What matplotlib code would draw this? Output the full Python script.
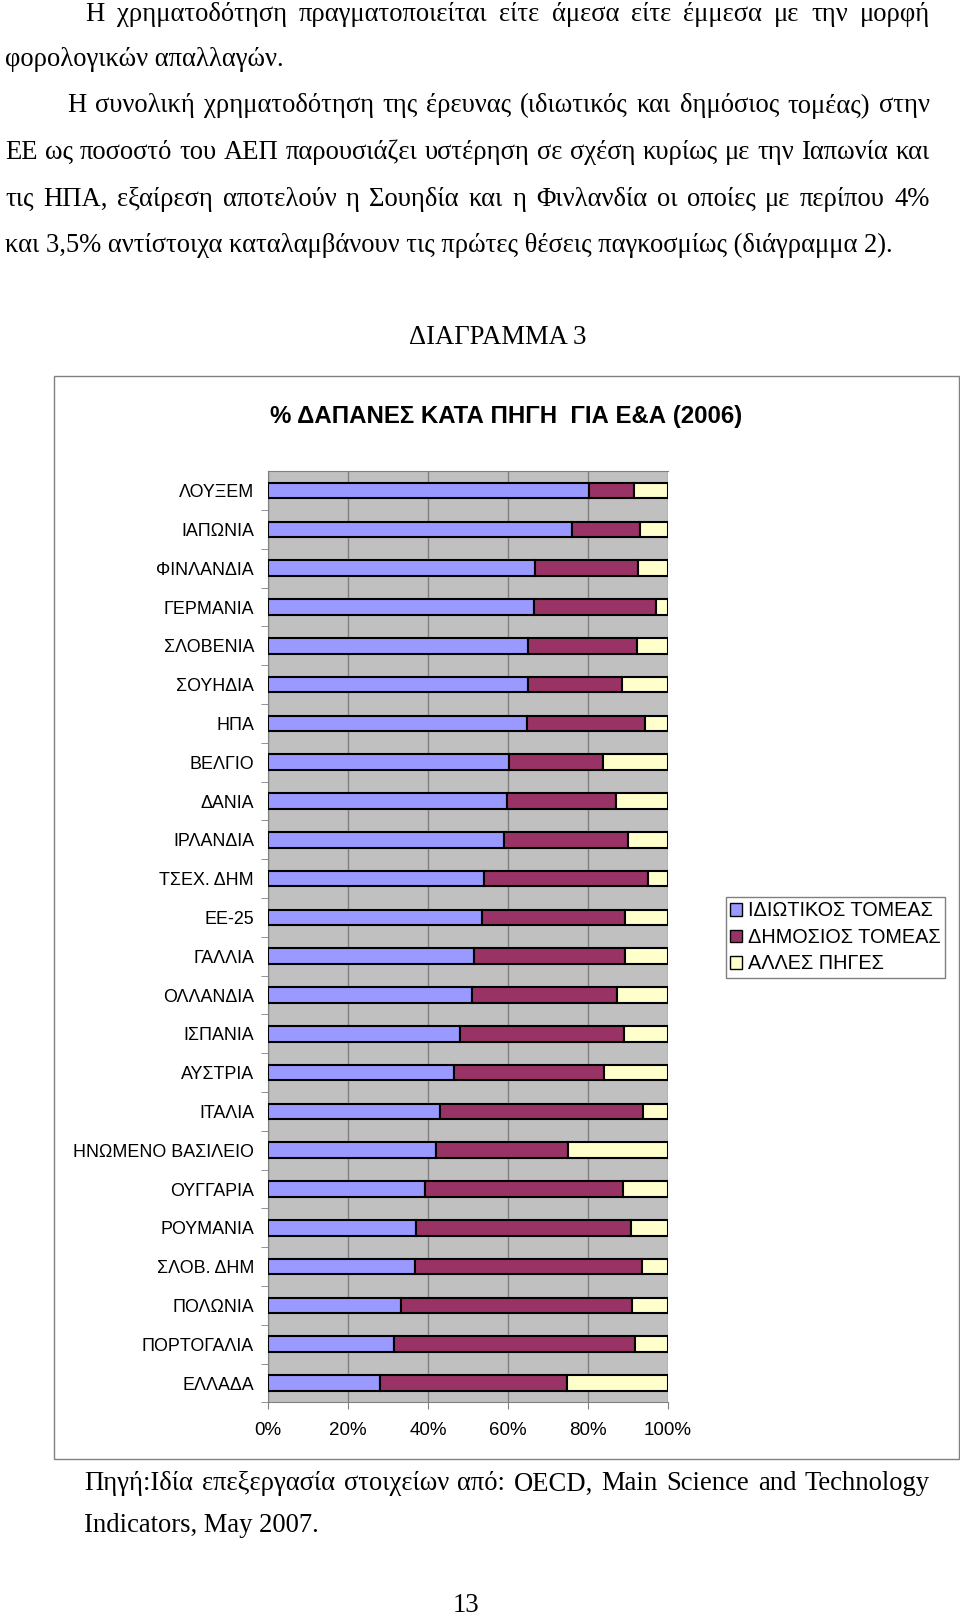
import numpy as np
import matplotlib
matplotlib.use("Agg")
import matplotlib.pyplot as plt
from matplotlib.patches import Rectangle, Patch

# data (% of R&D spending by source, 2006)
countries = ["ΛΟΥΞΕΜ", "ΙΑΠΩΝΙΑ", "ΦΙΝΛΑΝΔΙΑ", "ΓΕΡΜΑΝΙΑ", "ΣΛΟΒΕΝΙΑ", "ΣΟΥΗΔΙΑ",
             "ΗΠΑ", "ΒΕΛΓΙΟ", "ΔΑΝΙΑ", "ΙΡΛΑΝΔΙΑ", "ΤΣΕΧ. ΔΗΜ", "ΕΕ-25", "ΓΑΛΛΙΑ",
             "ΟΛΛΑΝΔΙΑ", "ΙΣΠΑΝΙΑ", "ΑΥΣΤΡΙΑ", "ΙΤΑΛΙΑ", "ΗΝΩΜΕΝΟ ΒΑΣΙΛΕΙΟ",
             "ΟΥΓΓΑΡΙΑ", "ΡΟΥΜΑΝΙΑ", "ΣΛΟΒ. ΔΗΜ", "ΠΟΛΩΝΙΑ", "ΠΟΡΤΟΓΑΛΙΑ", "ΕΛΛΑΔΑ"]
private = [80.3, 76.1, 66.8, 66.5, 65.1, 64.9, 64.8, 60.3, 59.7, 58.9, 54.0, 53.4,
           51.5, 51.0, 47.9, 46.6, 43.0, 42.0, 39.3, 37.1, 36.7, 33.3, 31.6, 28.1]
public = [11.3, 16.8, 25.6, 30.5, 27.2, 23.6, 29.4, 23.5, 27.3, 31.0, 41.0, 35.8,
          37.8, 36.3, 41.0, 37.5, 50.7, 33.0, 49.5, 53.6, 56.9, 57.8, 60.1, 46.6]
other = [8.4, 7.1, 7.6, 3.0, 7.7, 11.5, 5.8, 16.2, 13.0, 10.1, 5.0, 10.8,
         10.7, 12.7, 11.1, 15.9, 6.3, 25.0, 11.2, 9.3, 6.4, 8.9, 8.3, 25.3]
series_names = ["ΙΔΙΩΤΙΚΟΣ ΤΟΜΕΑΣ", "ΔΗΜΟΣΙΟΣ ΤΟΜΕΑΣ", "ΑΛΛΕΣ ΠΗΓΕΣ"]
xticks = [0, 20, 40, 60, 80, 100]
xtick_labels = ["0%", "20%", "40%", "60%", "80%", "100%"]

title = "% ΔΑΠΑΝΕΣ ΚΑΤΑ ΠΗΓΗ  ΓΙΑ Ε&Α (2006)"
para_lines = [
    "Η χρηματοδότηση πραγματοποιείται είτε άμεσα είτε έμμεσα με την μορφή",
    "φορολογικών απαλλαγών.",
    "Η συνολική χρηματοδότηση της έρευνας (ιδιωτικός και δημόσιος τομέας) στην",
    "ΕΕ ως ποσοστό του ΑΕΠ παρουσιάζει υστέρηση σε σχέση κυρίως με την Ιαπωνία και",
    "τις ΗΠΑ, εξαίρεση αποτελούν η Σουηδία και η Φινλανδία οι οποίες με περίπου 4%",
    "και 3,5% αντίστοιχα καταλαμβάνουν τις πρώτες θέσεις παγκοσμίως (διάγραμμα 2).",
]
source_lines = [
    "Πηγή:Ιδία επεξεργασία στοιχείων από: OECD, Main Science and Technology",
    "Indicators, May 2007.",
]

W, H = 960, 1616
SERIF = "Liberation Serif"
SANS = "Liberation Sans"
colors = ["#9999FF", "#993366", "#FFFFCC"]

fig = plt.figure(figsize=(W / 100, H / 100), dpi=100)
rend = fig.canvas.get_renderer()


def fx(x):
    return x / W


def fy(y):
    return 1 - y / H


def line_text(s, x0, y, size, x1=None):
    # justified when x1 given, otherwise left aligned
    words = s.split()
    if x1 is None:
        fig.text(fx(x0), fy(y), s, fontsize=size, family=SERIF, va="center", ha="left")
        return
    objs = [fig.text(0, fy(y), w, fontsize=size, family=SERIF, va="center", ha="left") for w in words]
    widths = [o.get_window_extent(rend).width for o in objs]
    gap = (x1 - x0 - sum(widths)) / (len(words) - 1)
    x = x0
    for o, w in zip(objs, widths):
        o.set_x(fx(x))
        x += w + gap


# calibrate body font size on the last (unjustified) line
t = fig.text(0, 0, para_lines[5], fontsize=16, family=SERIF)
body_size = 16 * 890 / t.get_window_extent(rend).width
t.remove()

line_text(para_lines[0], 85.6, 14.4, body_size, 930)
line_text(para_lines[1], 5, 60, body_size)
line_text(para_lines[2], 67, 106, body_size, 930)
line_text(para_lines[3], 5, 152.5, body_size, 930)
line_text(para_lines[4], 5, 199, body_size, 930)
line_text(para_lines[5], 5, 245, body_size)
fig.text(fx(498), fy(337), "ΔΙΑΓΡΑΜΜΑ 3", fontsize=body_size, family=SERIF, ha="center", va="center")

line_text(source_lines[0], 84.5, 1484, body_size, 930)
line_text(source_lines[1], 84.5, 1525, body_size)
fig.text(fx(466), fy(1605), "13", fontsize=body_size, family=SERIF, ha="center", va="center")

# chart frame
fig.patches.append(Rectangle((fx(53.6), fy(1459)), (959 - 53.6) / W, (1459 - 376) / H,
                             transform=fig.transFigure, fill=False, edgecolor="#808080", lw=1))
fig.text(fx(506), fy(416), title, fontsize=17.3, family=SANS, fontweight="bold",
         ha="center", va="center")

# plot
ax = fig.add_axes([fx(268), fy(1402.4), 400 / W, (1402.4 - 471.2) / H])
ax.set_facecolor("#C0C0C0")
left = np.zeros(len(countries))
for vals, c in zip([private, public, other], colors):
    ax.barh(countries, vals, left=left, height=0.4, color=c, edgecolor="black", lw=1.5, zorder=3)
    left += np.array(vals)

ax.set_xlim(0, 100)
ax.set_ylim(len(countries) - 0.5, -0.5)
ax.set_xticks(xticks)
ax.set_xticklabels(xtick_labels, family=SANS, fontsize=13.5)
ax.set_yticks(np.arange(len(countries)) + 0.5, minor=True)
ax.tick_params(axis="y", which="major", length=0, pad=10, labelsize=12.9)
ax.tick_params(axis="y", which="minor", length=5, color="#808080")
ax.tick_params(axis="x", length=5, pad=9, color="#808080")
for lab in ax.get_yticklabels():
    lab.set_family(SANS)
ax.xaxis.grid(True, color="#808080", lw=1)
ax.set_axisbelow(True)
ax.spines["right"].set_visible(False)
for s in ["left", "bottom", "top"]:
    ax.spines[s].set_color("#808080")

handles = [Patch(facecolor=c, edgecolor="black", lw=1) for c in colors]
fig.legend(handles, series_names, loc="upper left", bbox_to_anchor=(fx(726), fy(897)),
           frameon=True, fancybox=False, edgecolor="#808080", framealpha=1,
           prop={"family": SANS, "size": 14.3}, handlelength=0.6, handleheight=0.6,
           handletextpad=0.3, labelspacing=0.38, borderpad=0.22, borderaxespad=0)

fig.savefig("out.png", dpi=100)
